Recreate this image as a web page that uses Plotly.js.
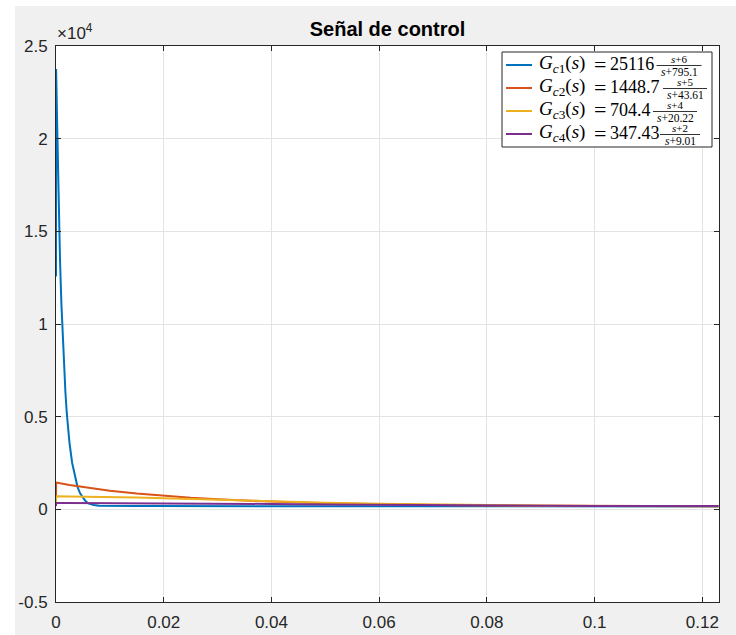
<!DOCTYPE html>
<html>
<head>
<meta charset="utf-8">
<script src="https://cdn.plot.ly/plotly-3.0.1.min.js"></script>
<style>
  html, body { margin: 0; padding: 0; background: #ffffff; width: 736px; height: 635px; overflow: hidden; }
  #plot { position: absolute; left: 15px; top: 6px; width: 721px; height: 629px; }
</style>
</head>
<body>
<div id="plot"></div>
<script>
// ---------------- DATA ----------------
// Time (s) for Gc1 (fast transient needs dense sampling)
const tFast = [0, 0.00002, 0.0002, 0.0005, 0.00075, 0.001, 0.00125, 0.0015, 0.00175, 0.002,
  0.0025, 0.003, 0.0035, 0.004, 0.0045, 0.005, 0.0055, 0.006, 0.007, 0.008,
  0.01, 0.0125, 0.015, 0.0175, 0.02, 0.025, 0.03, 0.035, 0.04, 0.05,
  0.06, 0.07, 0.08, 0.09, 0.1, 0.11, 0.123];
const uGc1 = [12560, 23760, 21000, 16300, 13400, 11100, 9200, 7600, 6300, 5200,
  3600, 2500, 1750, 1200, 850, 600, 430, 320, 230, 190,
  175, 175, 175, 175, 175, 172, 170, 168, 165, 162,
  160, 158, 156, 155, 154, 153, 152];

// Time (s) for the slower controllers
const tSlow = [0, 0.00002, 0.0025, 0.005, 0.0075, 0.01, 0.015, 0.02, 0.025, 0.03,
  0.035, 0.04, 0.05, 0.06, 0.07, 0.08, 0.09, 0.1, 0.11, 0.123];
const uGc2 = [400, 1445, 1317, 1202, 1098, 1006, 849, 722, 620, 538,
  472, 419, 330, 270, 230, 205, 190, 178, 170, 165];
const uGc3 = [352, 700, 695, 688, 678, 665, 635, 600, 555, 510,
  470, 430, 360, 300, 255, 220, 200, 185, 175, 165];
const uGc4 = [174, 345, 344, 343, 341, 339, 334, 328, 320, 310,
  300, 290, 265, 240, 220, 205, 195, 186, 180, 175];

// Legend text pieces
const legendIdx = ['1', '2', '3', '4'];
const gains = ['25116', '1448.7', '704.4', '347.43'];
const numerators = ['s+6', 's+5', 's+4', 's+2'];
const denominators = ['s+795.1', 's+43.61', 's+20.22', 's+9.01'];

// Axis ticks
const xTicks = [0, 0.02, 0.04, 0.06, 0.08, 0.1, 0.12];
const xTickText = ['0', '0.02', '0.04', '0.06', '0.08', '0.1', '0.12'];
const yTicks = [-5000, 0, 5000, 10000, 15000, 20000, 25000];
const yTickText = ['-0.5', '0', '0.5', '1', '1.5', '2', '2.5'];

// ---------------- STYLE / LAYOUT ----------------
const colors = ['#0072BD', '#D95319', '#EDB120', '#7E2F8E'];
const axisColor = '#262626';
const sans = 'Liberation Sans, Arial, Helvetica, sans-serif';
const serif = 'Liberation Serif, Times New Roman, serif';

// plot area in page pixels
const L = 56, R = 719, T = 46, B = 602;
const px = x => (x - L) / (R - L);
const py = y => (B - y) / (B - T);

const traces = [
  {x: tFast, y: uGc1, mode: 'lines', line: {color: colors[0], width: 2}, showlegend: false},
  {x: tSlow, y: uGc2, mode: 'lines', line: {color: colors[1], width: 2}, showlegend: false},
  {x: tSlow, y: uGc3, mode: 'lines', line: {color: colors[2], width: 2}, showlegend: false},
  {x: tSlow, y: uGc4, mode: 'lines', line: {color: colors[3], width: 2}, showlegend: false}
];

const rowY = [65, 88, 111, 134];
const fracCenter = [679, 685, 675, 680];
const fracHalf = [22.5, 22, 22, 20];

const shapes = [{
  type: 'rect', xref: 'paper', yref: 'paper', layer: 'above',
  x0: px(502), x1: px(712), y0: py(52), y1: py(147),
  fillcolor: '#ffffff', line: {color: axisColor, width: 1}
}];
const annotations = [{
  xref: 'paper', yref: 'paper', x: px(56), y: py(44), xanchor: 'left', yanchor: 'bottom',
  showarrow: false, borderpad: 0,
  text: '×10<sup>4</sup>', font: {family: sans, size: 17, color: axisColor}
}];

for (let i = 0; i < 4; i++) {
  shapes.push({
    type: 'line', xref: 'paper', yref: 'paper', layer: 'above',
    x0: px(506), x1: px(532), y0: py(rowY[i]), y1: py(rowY[i]),
    line: {color: colors[i], width: 2}
  });
  shapes.push({
    type: 'line', xref: 'paper', yref: 'paper', layer: 'above',
    x0: px(fracCenter[i] - fracHalf[i]), x1: px(fracCenter[i] + fracHalf[i]),
    y0: py(rowY[i] + 0.5), y1: py(rowY[i] + 0.5),
    line: {color: '#000000', width: 0.8}
  });
  annotations.push({
    xref: 'paper', yref: 'paper', x: px(586), y: py(rowY[i] - 1), xanchor: 'right', yanchor: 'middle',
    showarrow: false, borderpad: 0,
    text: '<i>G</i><sub><i>c</i>' + legendIdx[i] + '</sub>(<i>s</i>)',
    font: {family: serif, size: 19, color: '#000000'}
  });
  annotations.push({
    xref: 'paper', yref: 'paper', x: px(599.5), y: py(rowY[i] - 1), xanchor: 'center', yanchor: 'middle',
    showarrow: false, borderpad: 0, text: '=',
    font: {family: serif, size: 22, color: '#000000'}
  });
  annotations.push({
    xref: 'paper', yref: 'paper', x: px(609), y: py(rowY[i] - 1), xanchor: 'left', yanchor: 'middle',
    showarrow: false, borderpad: 0, text: gains[i],
    font: {family: serif, size: 18, color: '#000000'}
  });
  annotations.push({
    xref: 'paper', yref: 'paper', x: px(fracCenter[i]), y: py(rowY[i] - 6), xanchor: 'center', yanchor: 'middle',
    showarrow: false, borderpad: 0, text: '<i>s</i>' + numerators[i].slice(1),
    font: {family: serif, size: 11, color: '#000000'}
  });
  annotations.push({
    xref: 'paper', yref: 'paper', x: px(fracCenter[i]), y: py(rowY[i] + 7), xanchor: 'center', yanchor: 'middle',
    showarrow: false, borderpad: 0, text: '<i>s</i>' + denominators[i].slice(1),
    font: {family: serif, size: 11.5, color: '#000000'}
  });
}

const axisCommon = {
  showline: true, mirror: 'ticks', linecolor: axisColor, linewidth: 1,
  ticks: 'inside', ticklen: 5, tickwidth: 1, tickcolor: axisColor,
  showgrid: true, gridcolor: '#e3e3e3', gridwidth: 1, zeroline: false,
  tickfont: {family: sans, size: 17, color: axisColor}, tickmode: 'array'
};

const layout = {
  width: 721, height: 629,
  margin: {l: 41, r: 17, t: 40, b: 33, pad: 0},
  paper_bgcolor: '#f0f0f0', plot_bgcolor: '#ffffff',
  showlegend: false,
  title: {
    text: '<b>Señal de control</b>', x: px(387.5), xref: 'paper', xanchor: 'center',
    y: 1 - (29 - 6) / 629, yref: 'container', yanchor: 'middle',
    font: {family: sans, size: 20, color: '#000000'}
  },
  xaxis: Object.assign({}, axisCommon, {
    range: [0, 0.1231], tickvals: xTicks, ticktext: xTickText, ticklabelstandoff: 5
  }),
  yaxis: Object.assign({}, axisCommon, {
    range: [-5000, 25000], tickvals: yTicks, ticktext: yTickText, ticklabelstandoff: 4
  }),
  shapes: shapes,
  annotations: annotations
};

Plotly.newPlot('plot', traces, layout, {displayModeBar: false, staticPlot: true});
</script>
</body>
</html>
